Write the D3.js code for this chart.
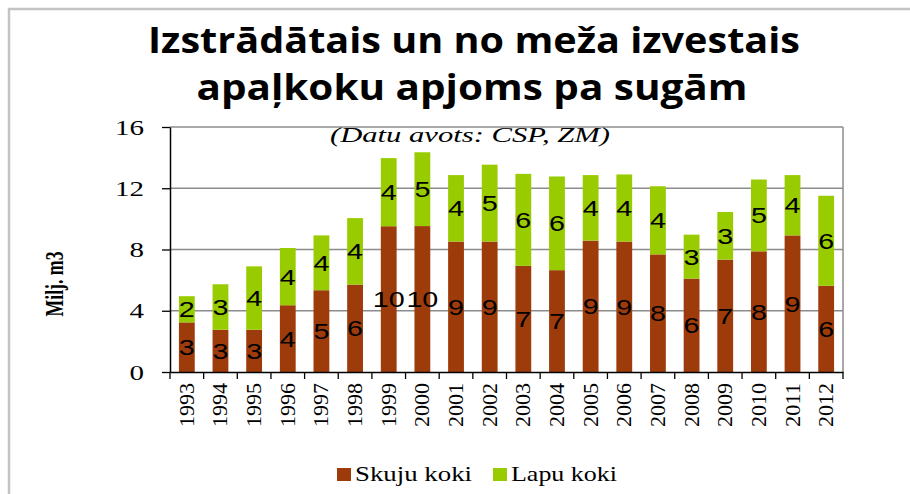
<!DOCTYPE html>
<html><head><meta charset="utf-8">
<script src="https://cdn.jsdelivr.net/npm/d3@7"></script>
<style>body{margin:0;background:#fff}svg{display:block}</style>
</head><body>
<svg id="c" width="910" height="494"></svg>
<script>
const years = ["1993","1994","1995","1996","1997","1998","1999","2000","2001","2002","2003","2004","2005","2006","2007","2008","2009","2010","2011","2012"];
const skuju = [3.24,2.76,2.76,4.36,5.34,5.71,9.52,9.53,8.52,8.52,6.93,6.65,8.58,8.52,7.68,6.1,7.34,7.88,8.92,5.63];
const lapu  = [1.71,2.97,4.14,3.74,3.58,4.34,4.45,4.82,4.34,5.02,6.01,6.12,4.28,4.38,4.45,2.87,3.11,4.69,3.94,5.88];
const yTicks = [0,4,8,12,16];
const seriesNames = ["Skuju koki","Lapu koki"];
const colors = ["#9e3b0b","#99cc00"];
const titleLines = ["Izstrādātais un no meža izvestais","apaļkoku apjoms pa sugām"];
const subtitle = "(Datu avots: CSP, ZM)";
const yTitle = "Milj. m3";

const svg = d3.select("#c");
// outer frame
svg.append("path").attr("d","M9,494 L9,9 L910,9").attr("fill","none").attr("stroke","#c4c4c4").attr("stroke-width",2.5);

const L=170,R=843,T=127,B=372;
const x = d3.scaleBand().domain(years).range([L,R]).paddingInner(0.53).paddingOuter(0.265);
const y = d3.scaleLinear().domain([0,16]).range([B,T]);

// gridlines
svg.append("g").selectAll("line").data(yTicks.filter(d=>d>0)).join("line")
  .attr("x1",L).attr("x2",R).attr("y1",d=>y(d)).attr("y2",d=>y(d))
  .attr("stroke","#8c8c8c").attr("stroke-width",1.5);
// right border
svg.append("line").attr("x1",R).attr("x2",R).attr("y1",T).attr("y2",B).attr("stroke","#8c8c8c").attr("stroke-width",1.5);

// bars
const stack = years.map((yr,i)=>({yr, s:skuju[i], l:lapu[i]}));
const g = svg.append("g");
g.selectAll("rect.s").data(stack).join("rect").attr("class","s")
  .attr("x",d=>x(d.yr)).attr("width",x.bandwidth())
  .attr("y",d=>y(d.s)).attr("height",d=>y(0)-y(d.s)).attr("fill",colors[0]);
g.selectAll("rect.l").data(stack).join("rect").attr("class","l")
  .attr("x",d=>x(d.yr)).attr("width",x.bandwidth())
  .attr("y",d=>y(d.s+d.l)).attr("height",d=>y(d.s)-y(d.s+d.l)).attr("fill",colors[1]);

// data labels
function lab(sel, val, mid){
  sel.join("text")
    .attr("x",d=>x(d.yr)+x.bandwidth()/2)
    .attr("y",d=>y(mid(d)))
    .attr("dy","0.36em")
    .attr("text-anchor","middle")
    .attr("font-family","Liberation Sans, Arial, sans-serif")
    .attr("font-size",22)
    .attr("fill","#000")
    .attr("textLength",d=>16*String(Math.round(val(d))).length)
    .attr("lengthAdjust","spacingAndGlyphs")
    .text(d=>Math.round(val(d)));
}
lab(g.selectAll("text.sl").data(stack), d=>d.s, d=>d.s/2);
lab(g.selectAll("text.ll").data(stack), d=>d.l, d=>d.s+d.l/2);

// y axis
const ya = svg.append("g").attr("transform",`translate(${L},0)`)
  .call(d3.axisLeft(y).tickValues(yTicks).tickSize(8).tickSizeOuter(0).tickPadding(18));
ya.select(".domain").attr("stroke","#000").attr("stroke-width",1.5);
ya.selectAll(".tick line").attr("stroke","#000").attr("stroke-width",1.3);
ya.selectAll(".tick text").attr("font-family","Liberation Serif, Times New Roman, serif").attr("font-size",22).attr("fill","#000")
  .attr("textLength",function(d){return 14.5*String(d).length}).attr("lengthAdjust","spacingAndGlyphs");

// x axis
const xa = svg.append("g").attr("transform",`translate(0,${B})`)
  .call(d3.axisBottom(x).tickSize(0).tickSizeOuter(0));
xa.select(".domain").attr("stroke","#000").attr("stroke-width",1.5);
xa.selectAll(".tick text")
  .attr("transform","rotate(-90)").attr("x",-11).attr("y",0).attr("dy","0.35em")
  .attr("text-anchor","end")
  .attr("font-family","Liberation Serif, Times New Roman, serif").attr("font-size",20).attr("fill","#000")
  .attr("textLength",44).attr("lengthAdjust","spacingAndGlyphs");
const half = (x.step()-x.bandwidth())/2;
const bounds = years.map(d=>x(d)-half).concat([x(years[years.length-1])+x.bandwidth()+half]);
xa.selectAll("line.bt").data(bounds).join("line").attr("class","bt")
  .attr("x1",d=>d).attr("x2",d=>d).attr("y1",0).attr("y2",7).attr("stroke","#000").attr("stroke-width",1.3);

// title
const tl = [{t:titleLines[0],cx:474,by:53,len:652},{t:titleLines[1],cx:472,by:100,len:551}];
svg.selectAll("text.title").data(tl).join("text").attr("class","title")
  .attr("x",d=>d.cx).attr("y",d=>d.by).attr("text-anchor","middle")
  .attr("font-family","Open Sans, Noto Sans, sans-serif").attr("font-weight","bold").attr("font-size",35)
  .attr("textLength",d=>d.len).attr("lengthAdjust","spacingAndGlyphs").text(d=>d.t);

// subtitle
svg.append("text").attr("x",470).attr("y",142).attr("text-anchor","middle")
  .attr("font-family","Liberation Serif, Times New Roman, serif").attr("font-style","italic").attr("font-size",20)
  .attr("textLength",280).attr("lengthAdjust","spacingAndGlyphs").text(subtitle);

// y title
svg.append("text").attr("transform","translate(63,284) rotate(-90)").attr("text-anchor","middle")
  .attr("font-family","Liberation Serif, Times New Roman, serif").attr("font-weight","bold").attr("font-size",26)
  .attr("textLength",65).attr("lengthAdjust","spacingAndGlyphs").text(yTitle);

// legend
const leg = [{n:seriesNames[0],c:colors[0],sx:337,tx:355,len:117},{n:seriesNames[1],c:colors[1],sx:493,tx:511,len:106}];
const lg = svg.append("g");
lg.selectAll("rect").data(leg).join("rect").attr("x",d=>d.sx).attr("y",468).attr("width",14).attr("height",13).attr("fill",d=>d.c);
lg.selectAll("text").data(leg).join("text").attr("x",d=>d.tx).attr("y",481)
  .attr("font-family","Liberation Serif, Times New Roman, serif").attr("font-size",22).attr("fill","#000")
  .attr("textLength",d=>d.len).attr("lengthAdjust","spacingAndGlyphs").text(d=>d.n);
</script>
</body></html>
